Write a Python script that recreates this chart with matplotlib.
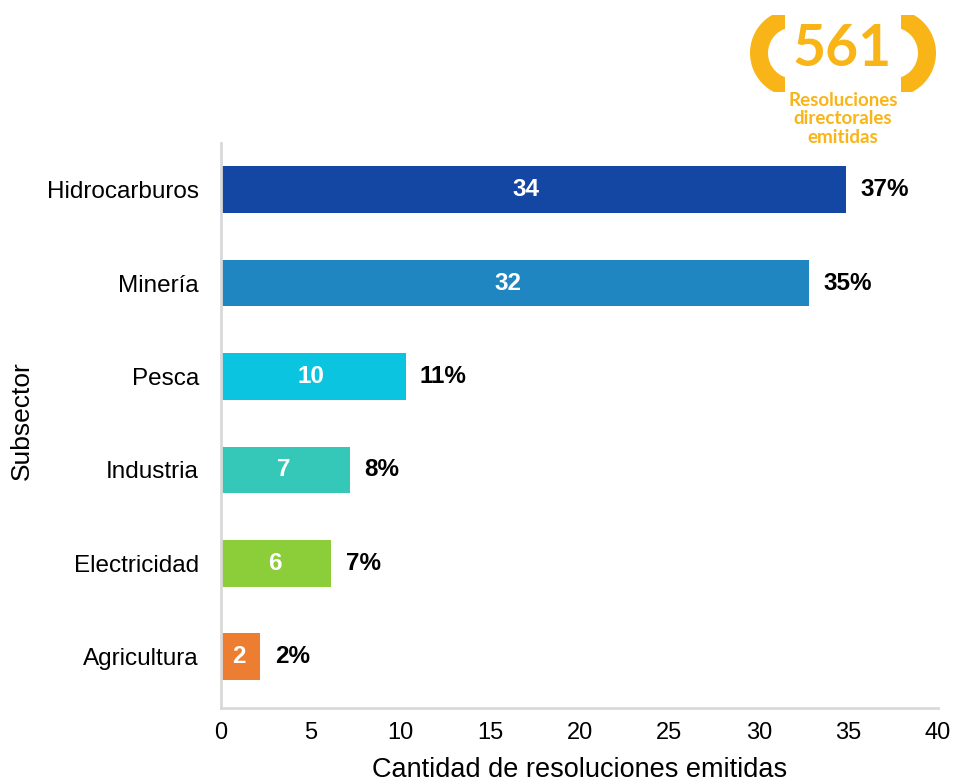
import matplotlib.pyplot as plt
from matplotlib.patches import Wedge, Rectangle

# data
categories = ["Hidrocarburos", "Minería", "Pesca", "Industria", "Electricidad", "Agricultura"]
counts = [34, 32, 10, 7, 6, 2]
bar_lengths = [34.85, 32.8, 10.3, 7.2, 6.15, 2.2]
percents = ["37%", "35%", "11%", "8%", "7%", "2%"]
colors = ["#1447A3", "#1F86C1", "#0BC5E0", "#35C8B9", "#8CCD3A", "#ED7D31"]
xticks = [0, 5, 10, 15, 20, 25, 30, 35, 40]
logo_number = "561"
logo_text = "Resoluciones\ndirectorales\nemitidas"

plt.rcParams['font.family'] = ['Liberation Sans', 'DejaVu Sans']
yellow = "#F9B418"

fig = plt.figure(figsize=(9.55, 7.82), dpi=100)
ax = fig.add_axes([221 / 955, 1 - 708 / 782, (938 - 221) / 955, (708 - 143) / 782])

ypos = list(range(len(categories)))[::-1]
ax.barh(ypos, bar_lengths, height=0.5, color=colors)

for y, n, length, pct in zip(ypos, counts, bar_lengths, percents):
    ax.text(n / 2, y, str(n), ha='center', va='center', color='white',
            fontsize=17.5, fontweight='bold')
    ax.text(length + 0.8, y, pct, ha='left', va='center', color='black',
            fontsize=17.5, fontweight='bold')

ax.set_yticks(ypos)
ax.set_yticklabels(categories, fontsize=17.5)
ax.set_xticks(xticks)
ax.set_xticklabels([str(t) for t in xticks], fontsize=17)
ax.set_xlim(0, 40)
ax.set_ylim(-0.55, 5.5)
ax.tick_params(axis='y', length=0, pad=16)
ax.tick_params(axis='x', length=0, pad=10)
for side in ['top', 'right']:
    ax.spines[side].set_visible(False)
for side in ['left', 'bottom']:
    ax.spines[side].set_color('#d9d9d9')
    ax.spines[side].set_linewidth(2)

ax.set_xlabel("Cantidad de resoluciones emitidas", fontsize=19.5)
ax.xaxis.label.set_va('center')
ax.xaxis.set_label_coords(0.5, -(770 - 708) / 565)
ax.set_ylabel("Subsector", fontsize=19)
ax.yaxis.label.set_va('center')
ax.yaxis.set_label_coords(-(221 - 22) / 717, (708 - 421) / 565)

# logo in the upper right corner (pixel coords -> inches)
def px(x, y):
    return (x / 100, (782 - y) / 100)

tr = fig.dpi_scale_trans
for cx, th1, th2, x0, x1 in [(793.8, 90, 270, 740, 785), (892.2, -90, 90, 901, 946)]:
    w = Wedge(px(cx, 53), 0.438, th1, th2, width=0.18, transform=tr,
              facecolor=yellow, edgecolor='none')
    clip = Rectangle(px(x0, 92), (x1 - x0) / 100, 0.77, transform=tr)
    fig.add_artist(w)
    w.set_clip_path(clip)

fig.text(842 / 955, 1 - 50 / 782, logo_number, ha='center', va='center',
         fontsize=41, color=yellow, family='Lato', fontweight='bold')
fig.text(843 / 955, 1 - 119 / 782, logo_text, ha='center', va='center',
         fontsize=13.5, color=yellow, fontweight='bold', family='Lato',
         linespacing=1.1)

fig.savefig("out.png", dpi=100)
